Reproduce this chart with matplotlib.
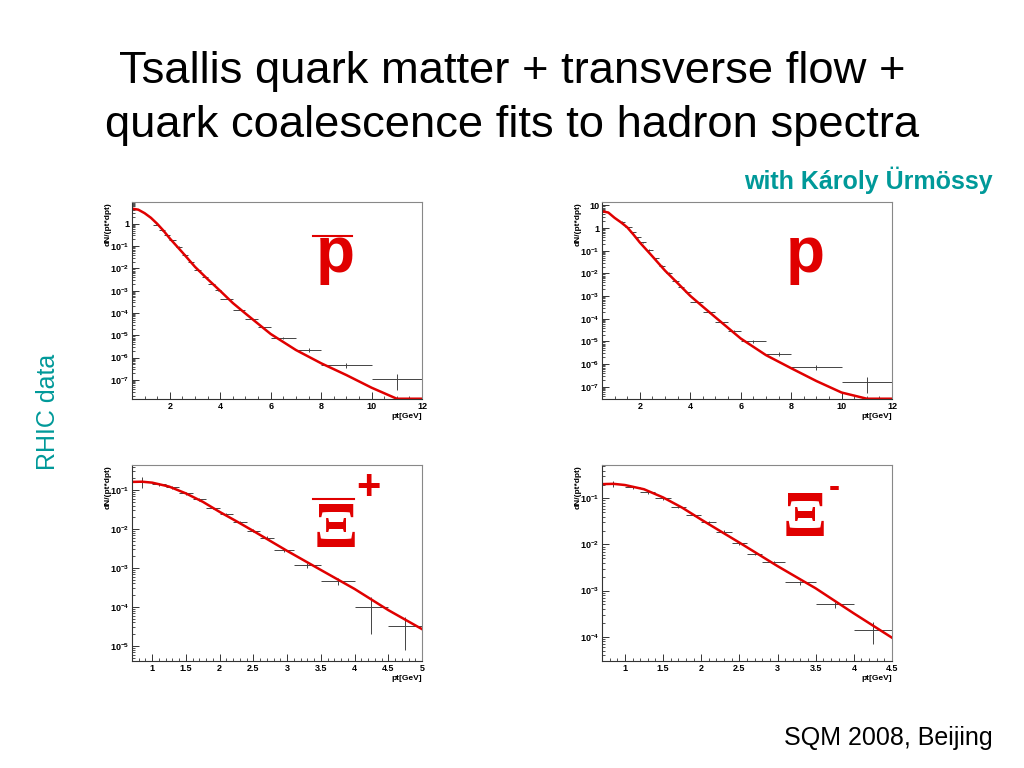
import numpy as np
import matplotlib
matplotlib.use("Agg")
import matplotlib.pyplot as plt
from matplotlib.ticker import FixedLocator, FuncFormatter, LogLocator, NullFormatter
from matplotlib.lines import Line2D

# ---- antiproton ----
pbar_pt = [1.45, 1.7, 1.9, 2.1, 2.35, 2.6, 2.85, 3.1, 3.4, 3.65, 3.9,
           4.25, 4.75, 5.25, 5.75, 6.5, 7.5, 9.0, 11.0]
pbar_dpt = [0.125] * 11 + [0.25, 0.25, 0.25, 0.25, 0.5, 0.5, 1.0, 1.0]
pbar_y = [0.93, 0.54, 0.33, 0.18, 0.095, 0.040, 0.0185, 0.0087, 0.0043, 0.0021, 0.00108,
          4.4e-4, 1.44e-4, 5.6e-5, 2.3e-5, 7.6e-6, 2.2e-6, 4.7e-7, 1.1e-7]
pbar_rel = [0.08] * 15 + [0.12, 0.2, 0.25, 0.68]
pbar_fit_pt = [0.5, 0.75, 1.0, 1.25, 1.5, 1.75, 2.0, 2.5, 3.0, 3.5, 4.0, 4.5, 5.0,
               6.0, 7.0, 8.0, 9.0, 10.0, 11.0, 12.0]
pbar_fit = [4.8, 4.3, 3.0, 1.86, 1.0, 0.49, 0.22, 0.052, 0.0117, 3.3e-3, 9.8e-4, 2.8e-4, 9.5e-5,
            1.15e-5, 2.2e-6, 5.6e-7, 1.66e-7, 4.5e-8, 1.1e-8, 3.2e-9]

# ---- proton ----
p_pt = [1.3, 1.55, 1.72, 1.92, 2.12, 2.38, 2.65, 2.89, 3.15, 3.42, 3.62, 3.9,
        4.25, 4.75, 5.25, 5.75, 6.5, 7.5, 9.0, 11.0]
p_dpt = [0.1] + [0.125] * 11 + [0.25, 0.25, 0.25, 0.25, 0.5, 0.5, 1.0, 1.0]
p_y = [1.9, 1.07, 0.64, 0.39, 0.23, 0.11, 0.046, 0.022, 0.0103, 0.0048, 0.0026, 0.00145,
       5.7e-4, 1.9e-4, 6.9e-5, 2.9e-5, 1.0e-5, 2.8e-6, 7.1e-7, 1.55e-7]
p_rel = [0.08] * 16 + [0.12, 0.2, 0.25, 0.66]
p_fit_pt = pbar_fit_pt
p_fit = [5.5, 4.8, 2.8, 1.78, 1.07, 0.51, 0.23, 0.056, 0.0132, 3.7e-3, 1.02e-3, 3.4e-4, 1.15e-4,
         1.35e-5, 2.5e-6, 6.6e-7, 1.8e-7, 5.6e-8, 1.6e-8, 5e-9]

# ---- anti-Xi ----
xip_pt = [0.85, 1.1, 1.3, 1.5, 1.7, 1.9, 2.1, 2.3, 2.5, 2.7, 2.95, 3.3, 3.75, 4.25, 4.75]
xip_dpt = [0.15] + [0.1] * 9 + [0.15, 0.2, 0.25, 0.25, 0.25]
xip_y = [0.165, 0.14, 0.117, 0.082, 0.058, 0.035, 0.024, 0.015, 0.0091, 0.006, 0.0029,
         0.0012, 4.7e-4, 1.0e-4, 3.2e-5]
xip_rel = [0.3, 0.1, 0.08, 0.08, 0.08, 0.08, 0.08, 0.08, 0.08, 0.08, 0.1, 0.15, 0.2, 0.8, 0.75]
xip_fit_pt = [0.7, 0.85, 1.0, 1.25, 1.5, 1.75, 2.0, 2.25, 2.5, 3.0, 3.5, 4.0, 4.5, 5.0]
xip_fit = [0.162, 0.164, 0.155, 0.123, 0.082, 0.050, 0.0275, 0.0158, 0.0089, 0.00275,
           8.9e-4, 2.9e-4, 8.3e-5, 2.7e-5]

# ---- Xi ----
xim_pt = [0.85, 1.1, 1.3, 1.5, 1.7, 1.9, 2.1, 2.3, 2.5, 2.7, 2.95, 3.3, 3.75, 4.25]
xim_dpt = [0.15] + [0.1] * 9 + [0.15, 0.2, 0.25, 0.25]
xim_y = [0.205, 0.174, 0.135, 0.100, 0.066, 0.044, 0.030, 0.019, 0.0106, 0.0062, 0.0041,
         0.0015, 5.0e-4, 1.4e-4]
xim_rel = [0.15, 0.06, 0.06, 0.06, 0.06, 0.06, 0.06, 0.06, 0.06, 0.06, 0.08, 0.1, 0.15, 0.5]
xim_fit_pt = [0.7, 0.85, 1.0, 1.25, 1.5, 1.75, 2.0, 2.25, 2.5, 3.0, 3.5, 4.0, 4.5]
xim_fit = [0.204, 0.207, 0.195, 0.158, 0.105, 0.063, 0.0347, 0.0195, 0.011, 0.0034,
           1.12e-3, 3.2e-4, 9.5e-5]

W, H = 1024, 768
RED = "#e00000"
TEAL = "#009999"

plt.rcParams["font.family"] = ["Liberation Sans", "DejaVu Sans"]
plt.rcParams["mathtext.fontset"] = "custom"
plt.rcParams["mathtext.rm"] = "Liberation Sans:bold"
plt.rcParams["mathtext.it"] = "Liberation Sans:bold"
plt.rcParams["mathtext.bf"] = "Liberation Sans:bold"

fig = plt.figure(figsize=(W / 100, H / 100), dpi=100)


def px_axes(l, t, r, b):
    return fig.add_axes([l / W, 1 - b / H, (r - l) / W, (b - t) / H])


def log_fmt(v, pos):
    e = int(round(np.log10(v)))
    if e == 0:
        return "1"
    if e == 1:
        return "10"
    return r"$\mathregular{10^{%d}}$" % e


panels = [
    dict(box=(132, 202, 422, 399), xlim=(0.5, 12), ylim=(1.4e-8, 9.5),
         xmaj=[2, 4, 6, 8, 10, 12], xmin_step=0.5,
         pt=pbar_pt, dpt=pbar_dpt, y=pbar_y, rel=pbar_rel, fpt=pbar_fit_pt, fy=pbar_fit),
    dict(box=(602, 202, 892, 399), xlim=(0.5, 12), ylim=(2.9e-8, 14),
         xmaj=[2, 4, 6, 8, 10, 12], xmin_step=0.5,
         pt=p_pt, dpt=p_dpt, y=p_y, rel=p_rel, fpt=p_fit_pt, fy=p_fit),
    dict(box=(132, 465, 422, 661), xlim=(0.7, 5), ylim=(4.1e-6, 0.44),
         xmaj=[1, 1.5, 2, 2.5, 3, 3.5, 4, 4.5, 5], xmin_step=0.1,
         pt=xip_pt, dpt=xip_dpt, y=xip_y, rel=xip_rel, fpt=xip_fit_pt, fy=xip_fit),
    dict(box=(602, 465, 892, 661), xlim=(0.7, 4.5), ylim=(2.97e-5, 0.53),
         xmaj=[1, 1.5, 2, 2.5, 3, 3.5, 4, 4.5], xmin_step=0.1,
         pt=xim_pt, dpt=xim_dpt, y=xim_y, rel=xim_rel, fpt=xim_fit_pt, fy=xim_fit),
]

for pn in panels:
    ax = px_axes(*pn["box"])
    ax.set_yscale("log")
    ax.set_xlim(*pn["xlim"])
    ax.set_ylim(*pn["ylim"])

    y = np.array(pn["y"])
    ax.errorbar(pn["pt"], y, xerr=pn["dpt"], yerr=y * np.array(pn["rel"]),
                fmt="none", ecolor="#444444", elinewidth=0.7, capsize=0)
    fy = np.maximum(np.array(pn["fy"]), pn["ylim"][0] * 1.03)
    ax.plot(pn["fpt"], fy, color=RED, lw=1.8, clip_on=True)

    ax.xaxis.set_major_locator(FixedLocator(pn["xmaj"]))
    ax.xaxis.set_minor_locator(FixedLocator(
        np.arange(0, pn["xlim"][1] + 1e-6, pn["xmin_step"])))
    ax.xaxis.set_major_formatter(FuncFormatter(lambda v, p: "%g" % v))
    ax.yaxis.set_major_locator(LogLocator(base=10, numticks=20))
    ax.yaxis.set_minor_locator(LogLocator(base=10, subs=np.arange(2, 10), numticks=20))
    ax.yaxis.set_major_formatter(FuncFormatter(log_fmt))
    ax.yaxis.set_minor_formatter(NullFormatter())
    ax.tick_params(which="both", direction="in", top=False, right=False,
                   colors="#333333", labelcolor="black", labelsize=6.5, pad=2)
    ax.tick_params(which="major", length=5, width=0.7)
    ax.tick_params(which="minor", length=2.5, width=0.6)
    for lab in ax.get_xticklabels() + ax.get_yticklabels():
        lab.set_fontweight("bold")
    for side in ["left", "bottom"]:
        ax.spines[side].set_color("#333333")
        ax.spines[side].set_linewidth(0.8)
    for side in ["top", "right"]:
        ax.spines[side].set_color("#888888")
        ax.spines[side].set_linewidth(0.8)

    l, t, r, b = pn["box"]
    fig.text((l - 24) / W, 1 - t / H, "dN/(pt*dpt)", rotation=90, ha="center", va="top",
             fontsize=6, fontweight="bold")
    fig.text(r / W, 1 - (b + 17) / H, "pt[GeV]", ha="right", va="center",
             fontsize=6, fontweight="bold")

# titles and notes
fig.text(512 / W, 1 - 72 / H, "Tsallis quark matter + transverse flow +",
         ha="center", va="center", fontsize=32.7)
fig.text(512 / W, 1 - 125 / H, "quark coalescence fits to hadron spectra",
         ha="center", va="center", fontsize=32.7)
fig.text(993 / W, 1 - 180 / H, "with Károly Ürmössy", ha="right", va="center",
         fontsize=18, fontweight="bold", color=TEAL)
fig.text(48 / W, 1 - 412 / H, "RHIC data", rotation=90, ha="center", va="center",
         fontsize=18, color=TEAL)
fig.text(993 / W, 1 - 738 / H, "SQM 2008, Beijing", ha="right", va="center", fontsize=18)

# particle labels
fig.text(335 / W, 1 - 255 / H, "p", ha="center", va="center", fontsize=46,
         fontweight="bold", color=RED)
fig.add_artist(Line2D([313 / W, 352 / W], [1 - 236 / H, 1 - 236 / H], color=RED, lw=1.5))
fig.text(805 / W, 1 - 255 / H, "p", ha="center", va="center", fontsize=46,
         fontweight="bold", color=RED)

xi_font = dict(fontsize=47, fontweight="bold", color=RED,
               family=["Liberation Serif", "DejaVu Serif"])
fig.text(336 / W, 1 - 531 / H, "Ξ", ha="center", va="center", **xi_font)
fig.add_artist(Line2D([313 / W, 354 / W], [1 - 499 / H, 1 - 499 / H], color=RED, lw=1.5))
fig.text(368 / W, 1 - 488 / H, "+", ha="center", va="center", fontsize=30,
         fontweight="bold", color=RED)

fig.text(805 / W, 1 - 520 / H, "Ξ", ha="center", va="center", **xi_font)
fig.text(834 / W, 1 - 489 / H, "-", ha="center", va="center", fontsize=24,
         fontweight="bold", color=RED)

fig.savefig("out.png", dpi=100, facecolor="white")
